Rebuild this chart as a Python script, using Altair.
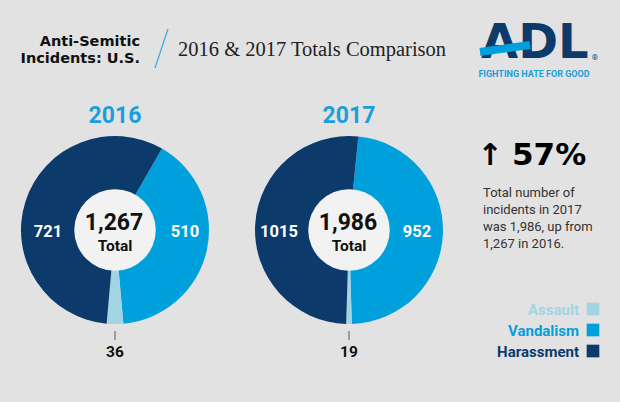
import math
import altair as alt
import pandas as pd

# ---------------- data ----------------
years = ["2016", "2017"]
categories = ["Vandalism", "Assault", "Harassment"]
values_2016 = [510, 36, 721]
values_2017 = [952, 19, 1015]
totals_text = ["1,267", "1,986"]
legend_labels = ["Assault", "Vandalism", "Harassment"]
cat_colors = {"Vandalism": "#00a0dc", "Assault": "#a2d5e2", "Harassment": "#0b3a6b"}
change_text = "57%"
note_lines = ["Total number of", "incidents in 2017", "was 1,986, up from", "1,267 in 2016."]

BG = "#e2e2e2"
NAVY = "#0b3a6b"
BLUE = "#00a0dc"
SANS = "Roboto"

one = pd.DataFrame({"a": [0]})


def text(t, x, y, size, color="#111", weight="bold", font=SANS, align="center", baseline="alphabetic"):
    return alt.Chart(pd.DataFrame({"t": [t]})).mark_text(
        fontSize=size, color=color, fontWeight=weight, font=font, align=align, baseline=baseline
    ).encode(text="t:N", x=alt.value(x), y=alt.value(y))


def donut(values, cx, cy, r_out=94, r_in=46):
    df = pd.DataFrame({"category": categories, "value": values, "order": [0, 1, 2]})
    total = sum(values)
    # rotate so that the Assault slice is centred at the bottom
    start = math.pi - 2 * math.pi * (values[0] + values[1] / 2) / total
    arcs = alt.Chart(df).mark_arc(radius=r_out).encode(
        theta=alt.Theta("value:Q", stack=True,
                        scale=alt.Scale(domain=[0, total], range=[start, start + 2 * math.pi], nice=False, zero=True)),
        color=alt.Color("category:N",
                        scale=alt.Scale(domain=list(cat_colors.keys()), range=list(cat_colors.values())),
                        legend=None),
        order=alt.Order("order:Q"),
        x=alt.value(cx), y=alt.value(cy),
    )
    hole = alt.Chart(one).mark_circle(size=math.pi * r_in ** 2, color="#f2f2f2", opacity=1, strokeWidth=0).encode(
        x=alt.value(cx), y=alt.value(cy)
    )
    return [arcs, hole]


layers = []

# header
layers.append(text("Anti-Semitic", 140, 46, 14.5, "#111", "bold", font="DejaVu Sans", align="right"))
layers.append(text("Incidents: U.S.", 140, 63, 14.5, "#111", "bold", font="DejaVu Sans", align="right"))
layers.append(alt.Chart(one).mark_rule(color="#3aa6dc", strokeWidth=1.2).encode(
    x=alt.value(168), x2=alt.value(155), y=alt.value(29), y2=alt.value(68)))
layers.append(text("2016 & 2017 Totals Comparison", 178, 56, 20.5, "#222", "normal", font="Liberation Serif", align="left"))

# logo
layers.append(text("ADL", 481, 58, 48, NAVY, "bold", font="DejaVu Sans", align="left"))
layers.append(alt.Chart(one).mark_rule(color=BLUE, strokeWidth=8).encode(
    x=alt.value(480), x2=alt.value(530), y=alt.value(52), y2=alt.value(45)))
layers.append(text("®", 595, 60, 8, NAVY, "normal"))
layers.append(text("FIGHTING HATE FOR GOOD", 534, 77, 9, "#1a9fd9", "bold"))

# donuts
centers = [(115, 230), (349, 230)]
vals = [values_2016, values_2017]
label_x = [(48, 185), (279, 417)]
for i, (cx, cy) in enumerate(centers):
    layers += donut(vals[i], cx, cy)
    layers.append(text(years[i], cx, 123, 23, "#1a9fdb", "bold"))
    layers.append(text(totals_text[i], cx - 1, 230, 23, "#111", "bold"))
    layers.append(text("Total", cx, 251, 15.5, "#111", "bold"))
    # harassment (left) and vandalism (right) labels
    layers.append(text(str(vals[i][2]), label_x[i][0], 237, 16.5, "white", "bold"))
    layers.append(text(str(vals[i][0]), label_x[i][1], 237, 16.5, "white", "bold"))
    # assault label below
    layers.append(alt.Chart(one).mark_rule(color="#555", strokeWidth=1).encode(
        x=alt.value(cx), y=alt.value(331), y2=alt.value(340)))
    layers.append(text(str(vals[i][1]), cx, 357, 15.5, "#111", "bold"))

# change callout
layers.append(text("↑", 490, 165, 30, "#000", "bold", font="DejaVu Sans"))
layers.append(text(change_text, 512, 165, 31, "#000", "bold", font="DejaVu Sans", align="left"))
for j, line in enumerate(note_lines):
    layers.append(text(line, 483, 197 + 17 * j, 13, "#333", "normal", align="left"))

# legend
for j, lab in enumerate(legend_labels):
    y = 315 + 21 * j
    layers.append(text(lab, 579, y, 15, cat_colors[lab], "bold", align="right"))
    layers.append(alt.Chart(one).mark_square(size=160, color=cat_colors[lab], opacity=1, strokeWidth=0).encode(
        x=alt.value(593), y=alt.value(y - 6)))

chart = alt.layer(*layers).resolve_scale(theta="independent").properties(
    width=620, height=402, autosize="none", padding=0, background=BG
).configure_view(stroke=None)

chart.save("out.html", embed_options={"renderer": "svg", "actions": False})
